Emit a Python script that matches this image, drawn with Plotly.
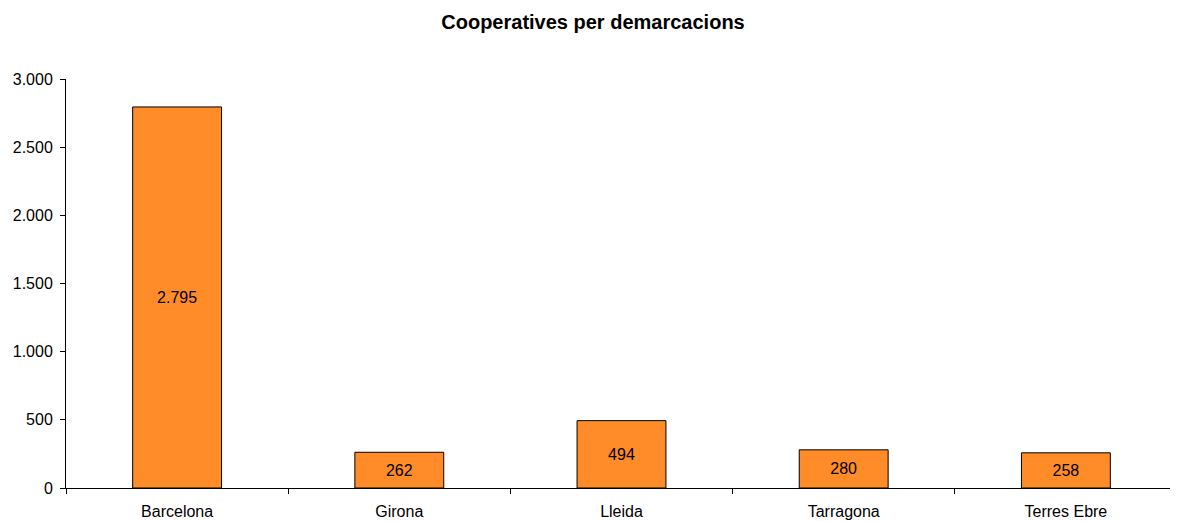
import plotly.graph_objects as go

categories = ["Barcelona", "Girona", "Lleida", "Tarragona", "Terres Ebre"]
values = [2795, 262, 494, 280, 258]
y_ticks = [0, 500, 1000, 1500, 2000, 2500, 3000]

W, H = 1170, 513

fig = go.Figure(go.Bar(
    x=categories,
    y=values,
    width=0.4,
    marker=dict(color="#FF8C28", line=dict(color="#000000", width=1)),
    texttemplate="%{y:,d}",
    textposition="inside",
    insidetextanchor="middle",
    constraintext="none",
    textfont=dict(family="Liberation Sans, Arial, sans-serif", size=16, color="#000000"),
))

fig.update_layout(
    width=W, height=H,
    margin=dict(l=58, r=1, t=71, b=33),
    paper_bgcolor="white", plot_bgcolor="white",
    separators=",.",
    font=dict(family="Liberation Sans, Arial, sans-serif", size=15.5, color="#000000"),
    title=dict(text="<b>Cooperatives per demarcacions</b>", x=0.5, xanchor="center",
               y=1 - 14/H, yanchor="middle", font=dict(size=20)),
    showlegend=False,
    bargap=0.6,
)
fig.update_xaxes(
    range=[-0.5, 4.5], showline=True, linecolor="#000000", linewidth=1,
    ticks="outside", tickson="boundaries", ticklen=5, tickcolor="#000000",
    showgrid=False, tickfont=dict(size=16), ticklabelstandoff=9,
)
fig.update_yaxes(
    range=[0, 3000], tickvals=y_ticks, tickformat=",d", showline=True,
    linecolor="#000000", linewidth=1, ticks="outside", ticklen=5,
    tickcolor="#000000", showgrid=False, zeroline=False, tickfont=dict(size=16),
    ticklabelstandoff=4,
)

fig.write_html("out.html")
